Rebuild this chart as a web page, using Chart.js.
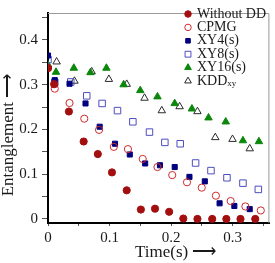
<!DOCTYPE html>
<html>
<head>
<meta charset="utf-8">
<script src="https://cdn.jsdelivr.net/npm/chart.js@4.4.0/dist/chart.umd.min.js"></script>
<style>
  html, body { margin: 0; padding: 0; background: #fff; }
</style>
</head>
<body>
<canvas id="entChart" width="275" height="263"></canvas>
<script>
// values
const noDDTime = [0, 0.010, 0.034, 0.058, 0.081, 0.104, 0.128, 0.151, 0.174, 0.197, 0.220, 0.243, 0.267, 0.290, 0.313, 0.337];
const noDDEnt  = [0.337, 0.301, 0.240, 0.173, 0.145, 0.104, 0.064, 0.021, 0.023, 0.016, 0.001, 0, 0, 0, 0, 0];

const cpmgTime = [0, 0.011, 0.035, 0.059, 0.083, 0.107, 0.130, 0.154, 0.178, 0.202, 0.226, 0.250, 0.273, 0.297, 0.321, 0.346];
const cpmgEnt  = [0.337, 0.291, 0.259, 0.224, 0.199, 0.161, 0.156, 0.134, 0.116, 0.098, 0.082, 0.070, 0.052, 0.040, 0.028, 0.019];

const xy4Time = [0, 0.011, 0.035, 0.061, 0.084, 0.109, 0.133, 0.158, 0.182, 0.206, 0.230, 0.255, 0.279, 0.303, 0.328];
const xy4Ent  = [0.365, 0.310, 0.302, 0.258, 0.206, 0.168, 0.144, 0.124, 0.120, 0.116, 0.094, 0.084, 0.035, 0.029, 0.022];

const xy8Time = [0, 0.011, 0.037, 0.063, 0.088, 0.113, 0.138, 0.165, 0.190, 0.215, 0.240, 0.265, 0.291, 0.317, 0.342];
const xy8Ent  = [0.356, 0.305, 0.306, 0.275, 0.258, 0.242, 0.217, 0.194, 0.171, 0.168, 0.125, 0.108, 0.092, 0.080, 0.066];

const xy16Time = [0, 0.013, 0.042, 0.069, 0.095, 0.123, 0.150, 0.178, 0.206, 0.234, 0.261, 0.289, 0.317, 0.343];
const xy16Ent  = [0.344, 0.328, 0.337, 0.327, 0.337, 0.300, 0.287, 0.273, 0.258, 0.246, 0.226, 0.217, 0.175, 0.173];

const kddTime = [0.014, 0.043, 0.071, 0.099, 0.128, 0.157, 0.185, 0.214, 0.243, 0.272, 0.300, 0.328];
const kddEnt  = [0.351, 0.308, 0.329, 0.312, 0.301, 0.270, 0.242, 0.251, 0.240, 0.182, 0.178, 0.157];

const seriesNames = ['Without DD', 'CPMG', 'XY4(s)', 'XY8(s)', 'XY16(s)', 'KDD'];
const seriesSubs  = ['', '', '', '', '', 'xy'];
const xTickLabels = ['0', '0.1', '0.2', '0.3'];
const yTickLabels = ['0', '0.1', '0.2', '0.3', '0.4'];

const toPts = (xs, ys) => xs.map((x, i) => ({x: x, y: ys[i]}));

Chart.defaults.font.family = "'Liberation Serif', 'Times New Roman', serif";
Chart.defaults.color = '#1a1a1a';

const serif = "'Liberation Serif', serif";

function mk(label, pts, style, r, fill, stroke, bw) {
    return {
        label: label,
        data: pts,
        pointStyle: style,
        pointRadius: r,
        pointBackgroundColor: fill,
        pointBorderColor: stroke,
        pointBorderWidth: bw,
        showLine: false
    };
}

// border on top/right + the key in the upper right corner
const frameAndKey = {
    id: 'frameAndKey',
    afterDraw(chart) {
        const ctx = chart.ctx;
        const a = chart.chartArea;
        ctx.save();
        ctx.strokeStyle = '#9a9a9a';
        ctx.lineWidth = 1;
        ctx.beginPath();
        ctx.moveTo(a.left, a.top + 0.5);
        ctx.lineTo(a.right - 0.5, a.top + 0.5);
        ctx.lineTo(a.right - 0.5, a.bottom);
        ctx.stroke();

        const mx = 188, tx = 197, y0 = 14, step = 13.4;
        chart.data.datasets.forEach((ds, i) => {
            const y = y0 + i * step;
            ctx.fillStyle = ds.pointBackgroundColor;
            ctx.strokeStyle = ds.pointBorderColor;
            ctx.lineWidth = ds.pointBorderWidth;
            Chart.helpers.drawPoint(ctx, {
                pointStyle: ds.pointStyle,
                radius: ds.pointRadius * 0.9,
                rotation: 0,
                borderWidth: ds.pointBorderWidth
            }, mx, y);
            ctx.fillStyle = '#1a1a1a';
            ctx.textBaseline = 'middle';
            ctx.textAlign = 'left';
            ctx.font = '14px ' + serif;
            ctx.fillText(seriesNames[i], tx, y);
            if (seriesSubs[i]) {
                const w = ctx.measureText(seriesNames[i]).width;
                ctx.font = '9px ' + serif;
                ctx.fillText(seriesSubs[i], tx + w, y + 3);
            }
        });
        ctx.restore();
    }
};

const ctx = document.getElementById('entChart').getContext('2d');
const entChart = new Chart(ctx, {
    type: 'scatter',
    data: {
        datasets: [
            mk(seriesNames[0], toPts(noDDTime, noDDEnt), 'circle', 3.6, '#a30f0f', '#a30f0f', 1),
            mk(seriesNames[1], toPts(cpmgTime, cpmgEnt), 'circle', 3.6, 'rgba(0,0,0,0)', '#cc2b2b', 1),
            mk(seriesNames[2], toPts(xy4Time, xy4Ent), 'rect', 3.6, '#00007f', '#00007f', 1),
            mk(seriesNames[3], toPts(xy8Time, xy8Ent), 'rect', 4.6, 'rgba(0,0,0,0)', '#4d4dbf', 1),
            mk(seriesNames[4], toPts(xy16Time, xy16Ent), 'triangle', 4.3, '#0b870b', '#0b870b', 1),
            mk(seriesNames[5] + seriesSubs[5], toPts(kddTime, kddEnt), 'triangle', 4.3, 'rgba(0,0,0,0)', '#2a2a2a', 1)
        ]
    },
    options: {
        responsive: false,
        animation: false,
        layout: { padding: { top: 1, right: 1, left: 0, bottom: 0 } },
        plugins: {
            legend: { display: false },
            tooltip: { enabled: false }
        },
        scales: {
            x: {
                type: 'linear',
                min: 0,
                max: 0.36,
                afterFit(s) { s.height = 40; },
                border: { color: '#000', width: 2 },
                grid: { drawOnChartArea: false, drawTicks: true, tickLength: 3, color: '#555' },
                ticks: {
                    stepSize: 0.05,
                    includeBounds: false,
                    autoSkip: false,
                    maxRotation: 0,
                    padding: 3,
                    color: '#1a1a1a',
                    font: { size: 15 },
                    callback: (v) => {
                        const s = String(Math.round(v * 100) / 100);
                        return xTickLabels.includes(s) ? s : '';
                    }
                },
                title: {
                    display: true,
                    // leading em spaces push the caption right, as in the figure
                    text: '\u2003\u2003Time(s) \u27F6',
                    color: '#1a1a1a',
                    font: { size: 17, lineHeight: 1 },
                    padding: { top: 0, bottom: 2 }
                }
            },
            y: {
                type: 'linear',
                min: -0.009,
                max: 0.46,
                afterFit(s) { s.width = 48; },
                border: { color: '#000', width: 2 },
                grid: { drawOnChartArea: false, drawTicks: true, tickLength: 6, color: '#555' },
                ticks: {
                    stepSize: 0.05,
                    includeBounds: false,
                    autoSkip: false,
                    padding: 4,
                    color: '#1a1a1a',
                    font: { size: 15 },
                    callback: (v) => {
                        const s = String(Math.round(v * 100) / 100);
                        return yTickLabels.includes(s) ? s : '';
                    }
                },
                title: {
                    display: true,
                    text: 'Entanglement \u27F6\u2003\u2003',
                    color: '#1a1a1a',
                    font: { size: 17, lineHeight: 1 },
                    padding: { top: 0, bottom: 0 }
                }
            }
        }
    },
    plugins: [frameAndKey]
});
</script>
</body>
</html>
